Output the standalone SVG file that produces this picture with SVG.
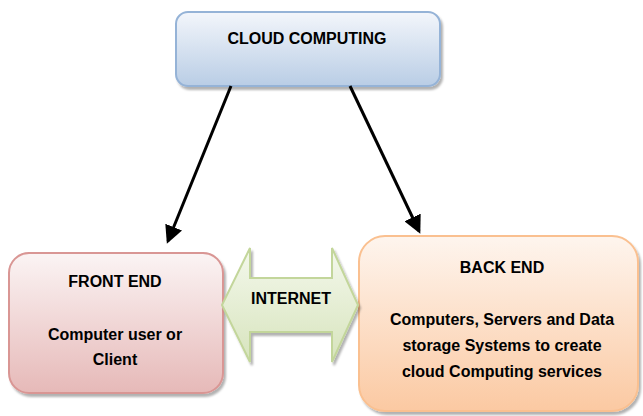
<svg xmlns="http://www.w3.org/2000/svg" width="643" height="416" viewBox="0 0 643 416">
<defs>
<linearGradient id="gBlue" x1="0" y1="0" x2="0" y2="1"><stop offset="0" stop-color="#f3f6fb"/><stop offset="1" stop-color="#b9cde5"/></linearGradient>
<linearGradient id="gRed" x1="0" y1="0" x2="0" y2="1"><stop offset="0" stop-color="#fbf4f4"/><stop offset="1" stop-color="#e6b9b8"/></linearGradient>
<linearGradient id="gOrange" x1="0" y1="0" x2="0" y2="1"><stop offset="0" stop-color="#fef5ee"/><stop offset="1" stop-color="#fbc9a2"/></linearGradient>
<linearGradient id="gGreen" x1="0" y1="0" x2="0" y2="1"><stop offset="0" stop-color="#f4f8ec"/><stop offset="1" stop-color="#d7e4bd"/></linearGradient>
<filter id="sh" x="-10%" y="-10%" width="130%" height="130%"><feDropShadow dx="2" dy="3" stdDeviation="1" flood-color="#000" flood-opacity="0.3"/></filter>
<marker id="ah" markerWidth="6" markerHeight="6" refX="5" refY="3" orient="auto" markerUnits="strokeWidth"><path d="M0,0 L6,3 L0,6 z" fill="#000"/></marker>
</defs>
<style>
text{font-family:"Liberation Sans",Arial,sans-serif;font-weight:bold;font-size:16px;fill:#000;text-anchor:middle}
.conn{stroke:#000;stroke-width:3;fill:none}
</style>
<g id="cloud">
<rect x="176" y="12" width="264" height="74" rx="12" fill="url(#gBlue)" stroke="#95b3d7" stroke-width="2" filter="url(#sh)"/>
<text x="307" y="44">CLOUD COMPUTING</text>
</g>
<g id="front-end">
<rect x="9" y="253" width="214" height="140" rx="20" fill="url(#gRed)" stroke="#d99694" stroke-width="2" filter="url(#sh)"/>
<text x="115" y="287">FRONT END</text>
<text x="115" y="340">Computer user or</text>
<text x="115" y="365">Client</text>
</g>
<g id="back-end">
<rect x="359" y="236" width="279" height="175" rx="26" fill="url(#gOrange)" stroke="#fac090" stroke-width="2" filter="url(#sh)"/>
<text x="502" y="273">BACK END</text>
<text x="502" y="325">Computers, Servers and Data</text>
<text x="502" y="351">storage Systems to create</text>
<text x="502" y="377">cloud Computing services</text>
</g>
<g id="internet">
<path d="M222,305 L250,248 L250,278 L332,278 L332,248 L358,305 L332,362 L332,332 L250,332 L250,362 Z" fill="url(#gGreen)" stroke="#c3d69b" stroke-width="2" filter="url(#sh)"/>
<text x="291" y="304">INTERNET</text>
</g>
<g id="connectors">
<line class="conn" x1="231" y1="86" x2="168" y2="241" marker-end="url(#ah)"/>
<line class="conn" x1="350" y1="86" x2="419" y2="231" marker-end="url(#ah)"/>
</g>
</svg>
